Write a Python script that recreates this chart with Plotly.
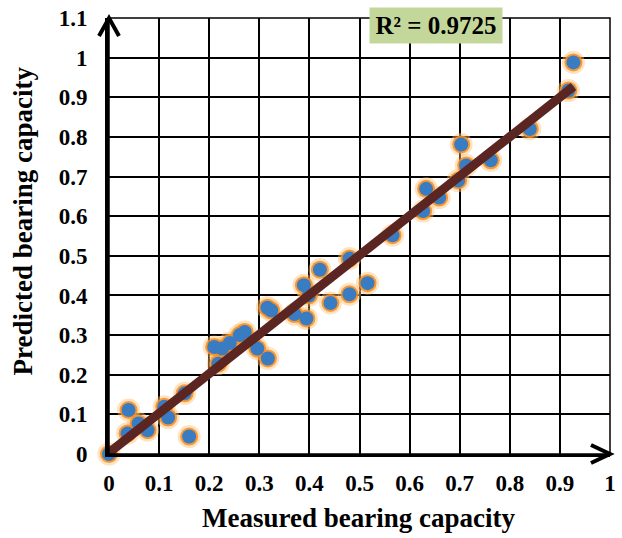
import numpy as np
import plotly.graph_objects as go

measured = [0.0, 0.039, 0.037, 0.059, 0.077, 0.110, 0.118, 0.151, 0.160, 0.210,
            0.226, 0.241, 0.218, 0.261, 0.271, 0.296, 0.317, 0.316, 0.324, 0.370,
            0.394, 0.389, 0.399, 0.421, 0.442, 0.480, 0.480, 0.516, 0.566, 0.627,
            0.633, 0.659, 0.697, 0.703, 0.713, 0.762, 0.840, 0.917, 0.927]
predicted = [0.0, 0.111, 0.052, 0.077, 0.060, 0.119, 0.092, 0.153, 0.044, 0.270,
             0.266, 0.280, 0.228, 0.300, 0.308, 0.266, 0.241, 0.369, 0.362, 0.353,
             0.342, 0.426, 0.400, 0.465, 0.381, 0.403, 0.493, 0.431, 0.552, 0.613,
             0.669, 0.647, 0.690, 0.781, 0.728, 0.741, 0.820, 0.917, 0.988]
r2_label = "R² = 0.9725"
x_title = "Measured bearing capacity"
y_title = "Predicted bearing capacity"

xs = np.array(measured)
ys = np.array(predicted)
slope, intercept = np.polyfit(xs, ys, 1)
trend_x = [xs.min(), xs.max()]
trend_y = [slope * v + intercept for v in trend_x]

FONT = "Liberation Serif"

fig = go.Figure()
# glow layers
fig.add_trace(go.Scatter(x=measured, y=predicted, mode="markers", cliponaxis=False,
                         marker=dict(size=23, color="rgba(255,190,110,0.45)", line=dict(width=0)),
                         hoverinfo="skip", showlegend=False))
fig.add_trace(go.Scatter(x=measured, y=predicted, mode="markers", cliponaxis=False,
                         marker=dict(size=18, color="rgba(247,140,30,0.85)", line=dict(width=0)),
                         hoverinfo="skip", showlegend=False))
fig.add_trace(go.Scatter(x=measured, y=predicted, mode="markers", cliponaxis=False,
                         marker=dict(size=14, color="#3a7cc2", line=dict(width=0)),
                         showlegend=False))
fig.add_trace(go.Scatter(x=trend_x, y=trend_y, mode="lines", cliponaxis=False,
                         line=dict(color="#5b2522", width=9), showlegend=False))

axis_font = dict(family=FONT, size=23, color="black", weight="bold")
fig.update_xaxes(range=[0, 1], dtick=0.1, tick0=0, showgrid=True, gridcolor="black",
                 gridwidth=1.5, zeroline=False, showline=True, linecolor="black",
                 linewidth=3, ticks="", ticklabelstandoff=6, tickfont=axis_font)
fig.update_yaxes(range=[0, 1.1], dtick=0.1, tick0=0, showgrid=True, gridcolor="black",
                 gridwidth=1.5, zeroline=False, showline=True, linecolor="black",
                 linewidth=4, ticks="", ticklabelstandoff=13, tickfont=axis_font)

shapes = [
    dict(type="rect", xref="paper", yref="paper", x0=0, x1=1, y0=0, y1=1,
         line=dict(color="black", width=1.5), layer="above"),
    dict(type="path", xref="paper", yref="paper", xsizemode="pixel", ysizemode="pixel",
         xanchor=1, yanchor=0, path="M -19,9 L 0,0 L -19,-9",
         line=dict(color="black", width=4), layer="above"),
    dict(type="path", xref="paper", yref="paper", xsizemode="pixel", ysizemode="pixel",
         xanchor=0, yanchor=1, path="M -10,-18 L 0,0 L 10,-18",
         line=dict(color="black", width=4), layer="above"),
]

annotations = [
    dict(text=r2_label, xref="paper", yref="paper", x=0.653, y=0.982,
         xanchor="center", yanchor="middle", showarrow=False,
         font=dict(family=FONT, size=25, color="black", weight="bold"),
         bgcolor="#c4d79b", width=130, height=33, borderpad=1),
    dict(text=x_title, xref="paper", yref="paper", x=0.499, y=-0.146,
         xanchor="center", yanchor="middle", showarrow=False,
         font=dict(family=FONT, size=27, color="black", weight="bold")),
    dict(text=y_title, xref="paper", yref="paper", x=-0.172, y=0.535,
         xanchor="center", yanchor="middle", showarrow=False, textangle=-90,
         font=dict(family=FONT, size=27, color="black", weight="bold")),
]

fig.update_layout(width=622, height=538, margin=dict(l=109, r=6, t=17, b=84),
                  plot_bgcolor="white", paper_bgcolor="white",
                  shapes=shapes, annotations=annotations)

fig.write_html("out.html")
